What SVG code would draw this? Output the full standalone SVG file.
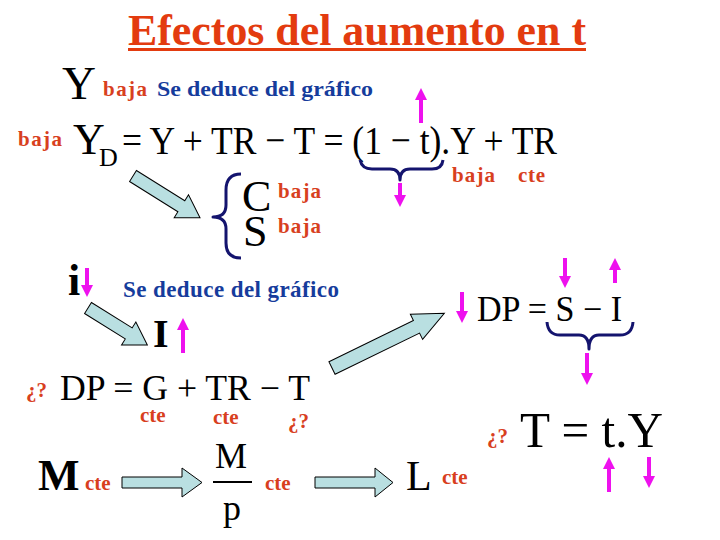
<svg xmlns="http://www.w3.org/2000/svg" width="720" height="540" viewBox="0 0 720 540">
<style>
.t{font-family:"Liberation Serif","Times New Roman",serif;fill:#000}
.r{font-family:"Liberation Serif","Times New Roman",serif;font-weight:bold;fill:#d8401e;font-size:21px}
.b{font-family:"Liberation Serif","Times New Roman",serif;font-weight:bold;fill:#163c9c;font-size:21px}
.blk{fill:#b9dfe1;stroke:#000;stroke-width:1}
.br{fill:none;stroke:#14146e;stroke-width:3;stroke-linejoin:round}
.pk{stroke:#ee11ee;stroke-width:4;marker-end:url(#pkh)}
</style>
<defs>
<marker id="pkh" markerWidth="12" markerHeight="12" refX="4" refY="6" orient="auto" markerUnits="userSpaceOnUse"><path d="M0,0 L12,6 L0,12 Z" fill="#ee11ee"/></marker>
</defs>
<rect width="720" height="540" fill="#fff"/>
<g id="title">
<text class="t" x="128" y="45" font-size="44" font-weight="bold" style="fill:#e33b0f" textLength="458" lengthAdjust="spacingAndGlyphs">Efectos del aumento en t</text>
<rect x="128" y="48" width="458" height="3" fill="#e33b0f"/>
</g>
<g id="row1">
<text class="t" x="62" y="99" font-size="47">Y</text>
<text class="r" x="103" y="96" textLength="44">baja</text>
<text class="b" x="157" y="96" textLength="216" lengthAdjust="spacingAndGlyphs">Se deduce del gráfico</text>
</g>
<g id="eqYD">
<text class="r" x="18" y="146" textLength="44">baja</text>
<text class="t" x="73" y="154" font-size="44">Y</text>
<text class="t" x="99" y="166" font-size="26">D</text>
<text class="t" x="122" y="154" font-size="41" textLength="435" lengthAdjust="spacingAndGlyphs">= Y + TR − T = (1 − t).Y + TR</text>
<text class="r" x="452" y="182" textLength="43">baja</text>
<text class="r" x="518" y="182" textLength="27">cte</text>
</g>
<g id="CS">
<text class="t" x="242" y="211" font-size="44">C</text>
<text class="t" x="243" y="246" font-size="44">S</text>
<text class="r" x="278" y="198" textLength="43">baja</text>
<text class="r" x="278" y="233" textLength="43">baja</text>
</g>
<g id="iI">
<text class="t" x="68" y="295" font-size="44" font-weight="bold">i</text>
<text class="b" x="123" y="297" font-size="23" style="font-size:23px" textLength="216">Se deduce del gráfico</text>
<text class="t" x="153" y="347" font-size="40" font-weight="bold">I</text>
</g>
<g id="DPleft">
<text class="r" x="26" y="397">¿?</text>
<text class="t" x="60" y="400" font-size="36" textLength="250" lengthAdjust="spacingAndGlyphs">DP = G + TR − T</text>
<text class="r" x="140" y="422">cte</text>
<text class="r" x="213" y="424">cte</text>
<text class="r" x="288" y="428">¿?</text>
</g>
<g id="DPright">
<text class="t" x="477" y="321" font-size="36" textLength="145" lengthAdjust="spacingAndGlyphs">DP = S − I</text>
</g>
<g id="TtY">
<text class="r" x="487" y="443">¿?</text>
<text class="t" x="520" y="447" font-size="50" textLength="143" lengthAdjust="spacingAndGlyphs">T = t.Y</text>
</g>
<g id="M">
<text class="t" x="38" y="490" font-size="44" font-weight="bold">M</text>
<text class="r" x="85" y="490">cte</text>
</g>
<g id="Mp">
<text class="t" x="215" y="468" font-size="36">M</text>
<rect x="213" y="481" width="39" height="2" fill="#000"/>
<text class="t" x="223" y="520" font-size="36">p</text>
<text class="r" x="265" y="490">cte</text>
</g>
<g id="L">
<text class="t" x="406" y="490" font-size="42">L</text>
<text class="r" x="442" y="484">cte</text>
</g>
<g id="braces">
<path class="br" d="M360,160 Q362,169 372,169 H390 Q400,169 400,180 Q400,169 410,169 H432 Q442,169 443,160"/>
<path class="br" d="M547,322 Q548,335 560,335 H579 Q589,335 589,349 Q589,335 599,335 H620 Q632,335 633,322"/>
<path class="br" d="M241,174 Q226,174 226,190 V205 Q226,217 213,217 Q226,217 226,229 V243 Q226,258 241,258"/>
</g>
<g id="connectors">
<path class="blk" transform="translate(133,176) rotate(32)" d="M0,-6.5 H57 V-13.5 L79,0 L57,13.5 V6.5 H0 Z"/>
<path class="blk" transform="translate(88,308) rotate(32)" d="M0,-6.5 H48 V-13.5 L70,0 L48,13.5 V6.5 H0 Z"/>
<path class="blk" transform="translate(122,482.5)" d="M0,-5.5 H60 V-14.5 L80,0 L60,14.5 V5.5 H0 Z"/>
<path class="blk" transform="translate(315,482.5)" d="M0,-5.5 H60 V-14.5 L78,0 L60,14.5 V5.5 H0 Z"/>
<path class="blk" transform="translate(332,368) rotate(-26)" d="M0,-7 H94 V-14 L125,0 L94,14 V7 H0 Z"/>
<line class="pk" x1="421" y1="123" x2="421" y2="96"/>
<line class="pk" x1="400" y1="183" x2="400" y2="199"/>
<line class="pk" x1="87" y1="268" x2="87" y2="289"/>
<line class="pk" x1="183" y1="353" x2="183" y2="326"/>
<line class="pk" x1="462" y1="292" x2="462" y2="315"/>
<line class="pk" x1="565" y1="258" x2="565" y2="280"/>
<line class="pk" x1="615" y1="283" x2="615" y2="266"/>
<line class="pk" x1="587" y1="353" x2="587" y2="377"/>
<line class="pk" x1="609" y1="492" x2="609" y2="465"/>
<line class="pk" x1="649" y1="457" x2="649" y2="480"/>
</g>
</svg>
